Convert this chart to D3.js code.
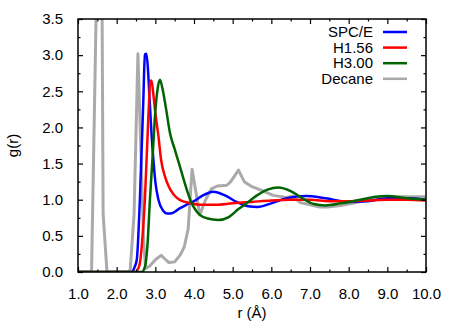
<!DOCTYPE html>
<html>
<head>
<meta charset="utf-8">
<script src="https://cdn.jsdelivr.net/npm/d3@7"></script>
<style>
  body { margin: 0; background: #fff; }
  svg { display: block; font-family: "Liberation Sans", Arial, sans-serif; }
</style>
</head>
<body>
<svg id="chart" width="463" height="324"></svg>
<script>
var width = 463,
    height = 324;

// g(r) curves
var spceR = [1.0, 2.4, 2.45, 2.52, 2.6, 2.69, 2.73, 2.77, 2.81, 2.85, 2.9, 2.95, 3.0, 3.08, 3.2, 3.3, 3.4, 3.6, 3.8, 4.0, 4.2, 4.5, 4.8, 5.1, 5.4, 5.65, 6.0, 6.4, 6.9, 7.4, 8.0, 8.5, 9.0, 9.5, 10.0];
var spceG = [0, 0, 0.05, 0.17, 1.0, 2.38, 3.01, 3.02, 2.8, 2.4, 1.92, 1.55, 1.25, 1.0, 0.85, 0.81, 0.81, 0.87, 0.93, 0.98, 1.05, 1.11, 1.06, 0.97, 0.91, 0.9, 0.95, 1.02, 1.05, 1.02, 0.97, 0.98, 1.02, 1.02, 1.0];

var h156R = [1.0, 2.5, 2.55, 2.6, 2.67, 2.73, 2.82, 2.87, 2.9, 2.95, 3.0, 3.08, 3.15, 3.25, 3.35, 3.45, 3.55, 3.7, 3.85, 4.15, 4.5, 5.0, 5.5, 6.0, 6.5, 7.0, 7.5, 8.0, 8.5, 9.0, 9.5, 10.0];
var h156G = [0, 0, 0.04, 0.12, 0.5, 1.0, 2.15, 2.63, 2.65, 2.45, 2.2, 1.88, 1.55, 1.32, 1.18, 1.09, 1.03, 0.98, 0.96, 0.93, 0.93, 0.95, 0.97, 0.99, 1.0, 1.0, 0.98, 0.98, 0.99, 1.0, 1.0, 0.99];

var h300R = [1.0, 2.65, 2.73, 2.8, 2.86, 2.93, 2.99, 3.05, 3.12, 3.18, 3.28, 3.38, 3.5, 3.64, 3.75, 3.85, 3.94, 4.05, 4.15, 4.35, 4.63, 4.9, 5.15, 5.36, 5.6, 5.9, 6.18, 6.5, 6.8, 7.1, 7.4, 7.8, 8.3, 8.7, 9.0, 9.5, 10.0];
var h300G = [0, 0, 0.07, 0.4, 1.0, 1.6, 2.15, 2.5, 2.66, 2.55, 2.25, 1.92, 1.7, 1.45, 1.25, 1.08, 0.95, 0.85, 0.79, 0.74, 0.72, 0.76, 0.87, 0.95, 1.05, 1.14, 1.17, 1.12, 1.02, 0.94, 0.92, 0.95, 1.0, 1.04, 1.05, 1.02, 1.0];

var decaneR = [1.0, 1.35, 1.55, 1.6, 1.65, 1.75, 2.3, 2.35, 2.45, 2.55, 2.7, 2.75, 2.85, 3.0, 3.15, 3.25, 3.35, 3.5, 3.65, 3.75, 3.85, 3.95, 4.15, 4.3, 4.45, 4.6, 4.85, 4.95, 5.15, 5.3, 5.5, 5.75, 6.05, 6.4, 6.55, 6.75, 7.0, 7.25, 7.45, 7.8, 8.1, 8.5, 9.0, 9.5, 10.0];
var decaneG = [0, 0, 6, 6, 0.8, 0, 0, 0.03, 0.8, 3.02, 0.4, 0.05, 0.08, 0.17, 0.23, 0.18, 0.13, 0.14, 0.24, 0.35, 0.6, 1.42, 0.79, 1.0, 1.15, 1.19, 1.2, 1.25, 1.41, 1.25, 1.18, 1.13, 1.06, 1.03, 1.05, 0.96, 0.93, 0.9, 0.9, 0.92, 0.95, 1.0, 1.04, 1.04, 1.04];

var seriesNames = ["SPC/E", "H1.56", "H3.00", "Decane"];
var seriesColors = ["#0000ff", "#ff0000", "#006400", "#aaaaaa"];

var xTicks = [1, 2, 3, 4, 5, 6, 7, 8, 9, 10];
var yTicks = [0, 0.5, 1, 1.5, 2, 2.5, 3, 3.5];

function pairs(rs, gs) {
    return rs.map(function(r, i) { return { r: r, g: gs[i] }; });
}

var series = [
    { name: seriesNames[0], color: seriesColors[0], pts: pairs(spceR, spceG), smooth: true },
    { name: seriesNames[1], color: seriesColors[1], pts: pairs(h156R, h156G), smooth: true },
    { name: seriesNames[2], color: seriesColors[2], pts: pairs(h300R, h300G), smooth: true },
    { name: seriesNames[3], color: seriesColors[3], pts: pairs(decaneR, decaneG), smooth: false }
];

var margin = { left: 78, right: 37, top: 19, bottom: 52 };

var x = d3.scaleLinear().domain([1, 10]).range([margin.left, width - margin.right]);
var y = d3.scaleLinear().domain([0, 3.5]).range([height - margin.bottom, margin.top]);

var svg = d3.select("#chart");

svg.append("clipPath").attr("id", "plotclip")
  .append("rect")
    .attr("x", x(1)).attr("y", y(3.5))
    .attr("width", x(10) - x(1)).attr("height", y(0) - y(3.5));

var plot = svg.append("g").attr("clip-path", "url(#plotclip)");

var lineSmooth = d3.line().x(function(d) { return x(d.r); }).y(function(d) { return y(d.g); }).curve(d3.curveMonotoneX);
var lineRaw = d3.line().x(function(d) { return x(d.r); }).y(function(d) { return y(d.g); });

// decane underneath, water models on top
var drawOrder = [series[3], series[0], series[1], series[2]];
plot.selectAll("path.curve").data(drawOrder)
  .enter().append("path")
    .attr("class", "curve")
    .attr("fill", "none")
    .attr("stroke", function(d) { return d.color; })
    .attr("stroke-width", function(d) { return d.smooth ? 2.5 : 3; })
    .attr("stroke-linejoin", "round")
    .attr("d", function(d) { return d.smooth ? lineSmooth(d.pts) : lineRaw(d.pts); });

/**
 * Axes: ticks point inward, mirrored on top and right
 */
var xMinor = d3.range(1.5, 10, 1);
var yMinor = d3.range(0.25, 3.5, 0.5);

var axisFont = 15;

var bottom = svg.append("g").attr("transform", "translate(0," + y(0) + ")")
    .call(d3.axisBottom(x).tickValues(xTicks).tickSize(-5).tickPadding(16).tickFormat(d3.format(".1f")));
var top = svg.append("g").attr("transform", "translate(0," + y(3.5) + ")")
    .call(d3.axisTop(x).tickValues(xTicks).tickSize(-5).tickFormat(""));
var left = svg.append("g").attr("transform", "translate(" + x(1) + ",0)")
    .call(d3.axisLeft(y).tickValues(yTicks).tickSize(-5).tickPadding(15).tickFormat(d3.format(".1f")));
var right = svg.append("g").attr("transform", "translate(" + x(10) + ",0)")
    .call(d3.axisRight(y).tickValues(yTicks).tickSize(-5).tickFormat(""));

svg.append("g").attr("transform", "translate(0," + y(0) + ")")
    .call(d3.axisBottom(x).tickValues(xMinor).tickSize(-2.5).tickFormat(""));
svg.append("g").attr("transform", "translate(0," + y(3.5) + ")")
    .call(d3.axisTop(x).tickValues(xMinor).tickSize(-2.5).tickFormat(""));
svg.append("g").attr("transform", "translate(" + x(1) + ",0)")
    .call(d3.axisLeft(y).tickValues(yMinor).tickSize(-2.5).tickFormat(""));
svg.append("g").attr("transform", "translate(" + x(10) + ",0)")
    .call(d3.axisRight(y).tickValues(yMinor).tickSize(-2.5).tickFormat(""));

svg.selectAll(".domain").remove();
svg.selectAll(".tick line").attr("stroke", "#000").attr("stroke-width", 1.2);
svg.selectAll(".tick text")
    .attr("fill", "#000")
    .style("font-family", "'Liberation Sans', Arial, sans-serif")
    .style("font-size", axisFont + "px");

svg.append("rect")
    .attr("x", x(1)).attr("y", y(3.5))
    .attr("width", x(10) - x(1)).attr("height", y(0) - y(3.5))
    .attr("fill", "none").attr("stroke", "#000").attr("stroke-width", 1.5);

svg.append("text")
    .attr("x", (x(1) + x(10)) / 2).attr("y", 318)
    .attr("text-anchor", "middle")
    .style("font-size", axisFont + "px")
    .text("r (Å)");

svg.append("text")
    .attr("transform", "translate(18," + (y(0) + y(3.5)) / 2 + ") rotate(-90)")
    .attr("text-anchor", "middle")
    .style("font-size", axisFont + "px")
    .text("g(r)");

/**
 * Key
 */
var key = svg.append("g").selectAll("g").data(series)
  .enter().append("g")
    .attr("transform", function(d, i) { return "translate(0," + (32 + i * 15.6) + ")"; });

key.append("text")
    .attr("x", 373).attr("dy", "0.35em")
    .attr("text-anchor", "end")
    .style("font-size", axisFont + "px")
    .text(function(d) { return d.name; });

key.append("line")
    .attr("x1", 383).attr("x2", 407)
    .attr("stroke", function(d) { return d.color; })
    .attr("stroke-width", 2.5);
</script>
</body>
</html>
